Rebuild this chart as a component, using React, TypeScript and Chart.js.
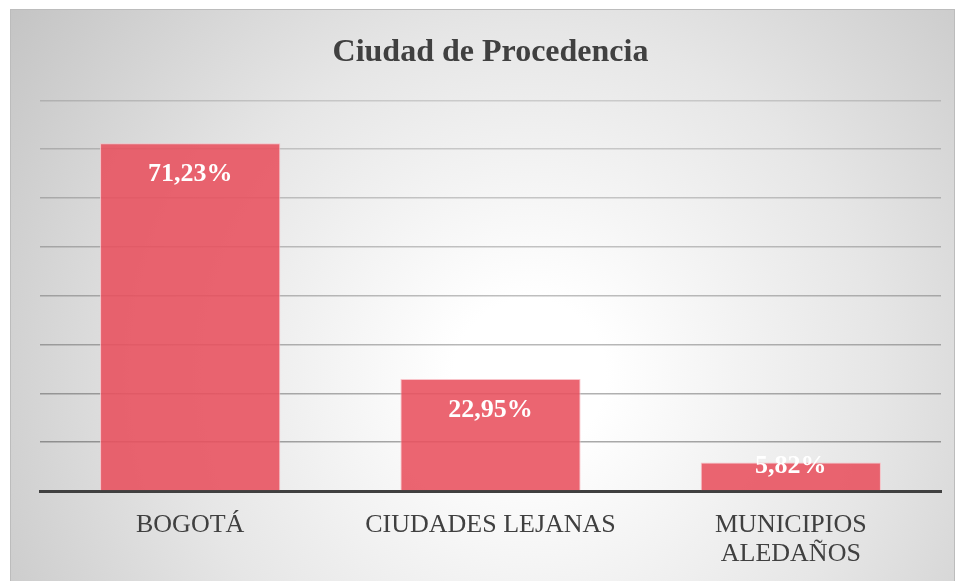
import React, { useEffect, useRef } from "react";
import { Chart, registerables } from "chart.js";

Chart.register(...registerables);

const titleText = "Ciudad de Procedencia";
const categories: (string | string[])[] = ["BOGOTÁ", "CIUDADES LEJANAS", ["MUNICIPIOS", "ALEDAÑOS"]];
const values = [71.23, 22.95, 5.82];
const valueLabels = ["71,23%", "22,95%", "5,82%"];
const yMax = 80;
const yStep = 10;

const SERIF = "'Liberation Serif', 'Times New Roman', serif";

const labelPlugin = {
  id: "barLabels",
  afterDatasetsDraw(chart: any) {
    const ctx = chart.ctx;
    const meta = chart.getDatasetMeta(0);
    ctx.save();
    ctx.fillStyle = "#ffffff";
    ctx.font = `bold 26px ${SERIF}`;
    ctx.textAlign = "center";
    ctx.textBaseline = "middle";
    meta.data.forEach((bar: any, i: number) => {
      const y = Math.min(bar.y + 31, bar.base - 24);
      ctx.fillText(valueLabels[i], bar.x, y);
    });
    ctx.restore();
  },
};

export default function App() {
  const ref = useRef<HTMLCanvasElement | null>(null);
  useEffect(() => {
    if (!ref.current) return;
    const chart = new Chart(ref.current, {
      type: "bar",
      data: {
        labels: categories,
        datasets: [
          {
            data: values,
            backgroundColor: "rgba(232,80,93,0.88)",
            borderColor: "rgba(248,190,196,0.9)",
            borderWidth: 1,
            barPercentage: 0.6,
            categoryPercentage: 1,
          },
        ],
      },
      options: {
        animation: false,
        responsive: true,
        maintainAspectRatio: false,
        layout: { padding: { left: 29, right: 13, top: 0, bottom: 13 } },
        plugins: {
          legend: { display: false },
          tooltip: { enabled: false },
          title: {
            display: true,
            text: titleText,
            color: "#404040",
            font: { family: SERIF, size: 32, weight: "bold", lineHeight: 1.2 },
            padding: { top: 24, bottom: 28 },
          },
        },
        scales: {
          x: {
            grid: { display: false, drawTicks: false },
            border: { display: true, color: "#404040", width: 3 },
            ticks: {
              color: "#404040",
              padding: 20,
              maxRotation: 0,
              autoSkip: false,
              font: { family: SERIF, size: 26, lineHeight: 1.1 },
            },
            afterFit: (scale: any) => {
              scale.height = 77;
            },
          },
          y: {
            min: 0,
            max: yMax,
            ticks: { display: false, stepSize: yStep },
            border: { display: false },
            grid: {
              drawTicks: false,
              lineWidth: 1.5,
              color: (c: any) => {
                const idx = c.index ?? 0;
                const a = 0.36 - (idx / 8) * 0.22;
                return `rgba(0,0,0,${a.toFixed(3)})`;
              },
            },
          },
        },
      },
      plugins: [labelPlugin],
    });
    return () => chart.destroy();
  }, []);

  return (
    <div
      style={{
        position: "fixed",
        left: 10,
        top: 9,
        width: 945,
        height: 572,
        boxSizing: "border-box",
        borderTop: "1.5px solid #bcbcbc",
        borderLeft: "1.5px solid #bcbcbc",
        borderRight: "1.5px solid #bcbcbc",
        background:
          "radial-gradient(circle farthest-corner at 55% 64%, #ffffff 0%, #ffffff 12%, #e6e6e6 55%, #c4c4c4 100%)",
      }}
    >
      <div style={{ position: "relative", width: 943, height: 571 }}>
        <canvas ref={ref} />
      </div>
    </div>
  );
}
